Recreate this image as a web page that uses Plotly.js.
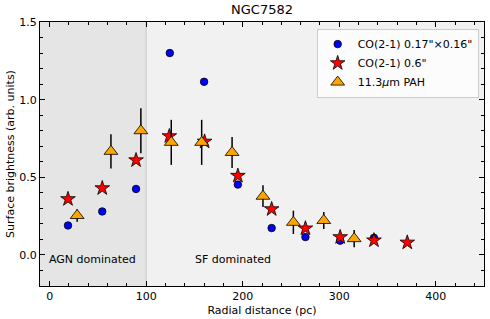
<!DOCTYPE html>
<html><head><meta charset="utf-8">
<script src="https://cdn.plot.ly/plotly-3.0.1.min.js"></script>
<style>html,body{margin:0;padding:0;background:#fff;}#c{width:490px;height:319px;}</style>
</head><body><div id="c"></div>
<script>
const coHiX = [19, 54.5, 89.5, 124.5, 160, 195, 230, 265, 301, 336];
const coHiY = [0.19, 0.28, 0.425, 1.30, 1.115, 0.453, 0.173, 0.115, 0.092, 0.11];
const coLoX = [19, 54.5, 89.5, 124, 160.5, 195, 230, 265, 301, 336, 370.5];
const coLoY = [0.36, 0.43, 0.61, 0.765, 0.73, 0.51, 0.295, 0.171, 0.115, 0.094, 0.08];
const pahX = [28.5, 63.5, 94.5, 126, 157.5, 189, 221, 252.5, 284, 315.5];
const pahY = [0.254, 0.667, 0.80, 0.725, 0.725, 0.66, 0.378, 0.21, 0.222, 0.105];
const pahErr = [0.04, 0.11, 0.145, 0.145, 0.145, 0.10, 0.07, 0.075, 0.055, 0.055];
const names = ['CO(2-1) 0.17"×0.16"', 'CO(2-1) 0.6"', '11.3<i>μ</i>m PAH'];

const font = {family: 'DejaVu Sans', size: 11, color: '#000'};
const traces = [
  {x: coHiX, y: coHiY, name: names[0], type: 'scatter', mode: 'markers',
   marker: {symbol: 'circle', color: '#0000ff', size: 7.5, line: {color: '#000', width: 0.8}}},
  {x: coLoX, y: coLoY, name: names[1], type: 'scatter', mode: 'markers',
   marker: {symbol: 'star', color: '#ff0000', size: 11, line: {color: '#000', width: 0.8}}},
  {x: pahX, y: pahY, name: names[2], type: 'scatter', mode: 'markers',
   error_y: {type: 'data', array: pahErr, visible: true, color: '#000', thickness: 1.5, width: 0},
   marker: {symbol: 'triangle-up', color: '#ffa500', size: 12, line: {color: '#000', width: 0.8}}}
];
const axisCommon = {
  showgrid: false, zeroline: false, showline: true, linecolor: '#000', linewidth: 1,
  mirror: 'allticks', ticks: 'inside', ticklen: 5, tickwidth: 1, tickcolor: '#000',
  tickfont: font
};
const layout = {
  width: 490, height: 319,
  margin: {l: 40, r: 6, t: 22, b: 33},
  paper_bgcolor: '#fff', plot_bgcolor: '#f1f1f1',
  font: font,
  title: {text: 'NGC7582', font: {family: 'DejaVu Sans', size: 13, color: '#000'}, xref: 'paper', x: 0.5, xanchor: 'center', y: 0.985, yanchor: 'top'},
  xaxis: Object.assign({}, axisCommon, {range: [-10, 450], dtick: 100, tick0: 0,
    minor: {dtick: 20, tick0: 0, ticks: 'inside', ticklen: 3, tickcolor: '#000'},
    title: {text: 'Radial distance (pc)', font: font, standoff: 4}}),
  yaxis: Object.assign({}, axisCommon, {range: [-0.2, 1.5], dtick: 0.5, tick0: 0, tickformat: '.1f',
    minor: {dtick: 0.1, tick0: 0, ticks: 'inside', ticklen: 3, tickcolor: '#000'},
    title: {text: 'Surface brightness (arb. units)', font: font, standoff: 2}}),
  shapes: [
    {type: 'rect', xref: 'x', yref: 'paper', x0: -10, x1: 100, y0: 0, y1: 1,
     fillcolor: '#e5e5e5', line: {width: 0}, layer: 'below'},
    {type: 'line', xref: 'x', yref: 'paper', x0: 100, x1: 100, y0: 0, y1: 1,
     line: {color: '#c8c8c8', width: 1}, layer: 'below'}
  ],
  annotations: [
    {text: 'AGN dominated', xref: 'x', yref: 'y', x: -2.5, y: -0.028, xanchor: 'left', yanchor: 'middle', showarrow: false, font: {family: 'DejaVu Sans', size: 11, color: '#000'}},
    {text: 'SF dominated', xref: 'x', yref: 'y', x: 149, y: -0.028, xanchor: 'left', yanchor: 'middle', showarrow: false, font: {family: 'DejaVu Sans', size: 11, color: '#000'}}
  ],
  legend: {x: 0.988, y: 0.975, xanchor: 'right', yanchor: 'top', bgcolor: 'rgba(255,255,255,0.8)',
    bordercolor: '#cccccc', borderwidth: 1, font: font, tracegroupgap: 0, itemsizing: 'trace', itemwidth: 30},
  showlegend: true
};
Plotly.newPlot('c', traces, layout, {staticPlot: true, displayModeBar: false});
</script></body></html>
